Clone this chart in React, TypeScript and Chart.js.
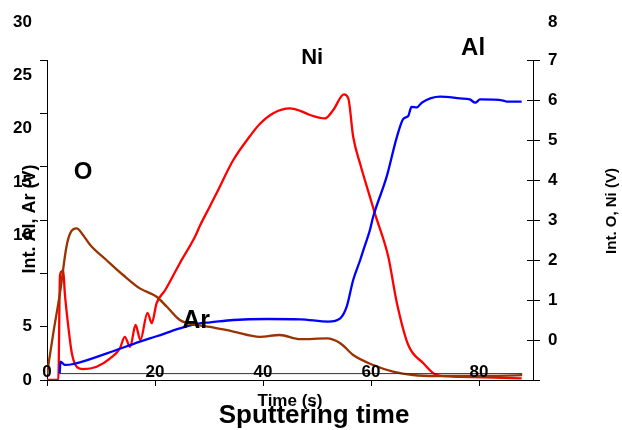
import React, { useEffect, useRef } from 'react';
import { Chart, registerables } from 'chart.js';

Chart.register(...registerables);

const FONT = '"Liberation Sans", Arial, Helvetica, sans-serif';

// ---- data ----
const oTime = [0, 1.2, 2.4, 3.6, 4.3, 5.5, 6.7, 8.0, 11.0, 14.1, 17.2, 20.3, 22.2, 24.6, 27.7, 30.2, 34.5, 39.4, 43.1, 46.9, 51.8, 54.3, 56.7, 60.4, 64.1, 67.8, 72, 80, 88];
const oValue = [-0.85, 0.2, 1.17, 2.33, 2.67, 2.79, 2.62, 2.375, 2.0, 1.625, 1.29, 1.08, 0.83, 0.5, 0.375, 0.33, 0.21, 0.08, 0.125, 0.02, 0.04, -0.08, -0.375, -0.625, -0.79, -0.875, -0.9, -0.9, -0.88];

const niTime = [0, 2.1, 2.4, 2.7, 3.0, 3.3, 3.95, 4.6, 5.5, 6.7, 9.2, 11.7, 13.5, 14.4, 15.4, 16.4, 17.3, 18.6, 19.4, 20.3, 21.9, 24.6, 27.4, 28.3, 30.2, 31.4, 34.5, 37.6, 39.4, 41.9, 45.0, 46.9, 48.7, 51.5, 53.0, 55.0, 55.8, 56.7, 58.0, 59.8, 60.7, 63.2, 64.8, 66.9, 69.7, 72.2, 76.5, 82.6, 87.9];
const niValue = [-1, -1, 1.6, 1.71, 1.75, 1.17, 0.33, -0.33, -0.67, -0.73, -0.67, -0.46, -0.21, 0.08, -0.17, 0.375, 0, 0.68, 0.42, 0.92, 1.25, 1.92, 2.58, 2.85, 3.35, 3.67, 4.5, 5.1, 5.4, 5.67, 5.79, 5.73, 5.625, 5.54, 5.75, 6.14, 6.04, 5.08, 4.4, 3.58, 3.17, 2.08, 0.92, -0.125, -0.58, -0.875, -0.92, -0.94, -0.96];

const alTime = [2.35, 2.5, 3.3, 4.9, 11.1, 17.2, 20.3, 24.6, 28.3, 30.2, 34.5, 40.7, 46.9, 52.1, 54.3, 55.5, 56.7, 58.0, 58.6, 59.8, 60.4, 62.9, 64.8, 66.0, 66.9, 67.5, 68.5, 69.4, 72.8, 76.5, 78.3, 79.3, 80.2, 84.5, 85.1, 87.9];
const alValue = [0.6, 1.72, 1.41, 1.5, 2.5, 3.6, 4.1, 4.84, 5.31, 5.4, 5.625, 5.72, 5.69, 5.47, 5.78, 6.87, 9.375, 11.25, 12.2, 14.06, 15.3, 19.06, 22.8, 24.5, 24.75, 25.6, 25.56, 26.0, 26.56, 26.4, 26.3, 26.0, 26.3, 26.2, 26.1, 26.1];

const baseTime = [2.4, 88];
const baseValue = [0.6, 0.6];

// tick label sets
const xTicks = [0, 20, 40, 60, 80];
const leftLowTicks = [0, 5];
const leftShiftedTicks = [10, 15, 20, 25, 30];
const rightExtraTick = 8;

const toPoints = (xs: number[], ys: number[]) => xs.map((x, i) => ({ x, y: ys[i] }));

const textPlugin = {
  id: 'extraTexts',
  afterDraw(chart: any) {
    const ctx = chart.ctx;
    const xS = chart.scales.x;
    const yL = chart.scales.y;
    const yR = chart.scales.y1;
    ctx.save();
    ctx.fillStyle = '#000';
    ctx.strokeStyle = '#000';
    ctx.lineWidth = 1;

    // inner ticks of right axis
    for (const t of yR.ticks) {
      const py = Math.round(yR.getPixelForValue(t.value)) + 0.5;
      ctx.beginPath();
      ctx.moveTo(yR.left - 6, py);
      ctx.lineTo(yR.left, py);
      ctx.stroke();
    }

    ctx.font = `bold 17px ${FONT}`;
    ctx.textBaseline = 'middle';

    // x tick labels, sitting on the inner baseline
    ctx.textAlign = 'center';
    for (const v of xTicks) {
      ctx.fillText(String(v), xS.getPixelForValue(v), xS.top - 8);
    }

    // shifted left tick labels
    ctx.textAlign = 'right';
    for (const v of leftShiftedTicks) {
      ctx.fillText(String(v), yL.right - 15, yL.getPixelForValue(v) - 38);
    }
    // extra right label
    ctx.textAlign = 'left';
    ctx.fillText(String(rightExtraTick), yR.left + 15, yR.getPixelForValue(rightExtraTick) + 2);

    // annotations
    const ann = [
      { t: 'O', x: 6.7, y: 4.18, s: 24 },
      { t: 'Ni', x: 49.1, y: 7.05, s: 22 },
      { t: 'Al', x: 78.9, y: 7.28, s: 24 },
      { t: 'Ar', x: 27.6, y: 0.47, s: 25 },
    ];
    ctx.textAlign = 'center';
    for (const a of ann) {
      ctx.font = `bold ${a.s}px ${FONT}`;
      ctx.fillText(a.t, xS.getPixelForValue(a.x), yR.getPixelForValue(a.y));
    }

    // axis titles
    ctx.font = `bold 18px ${FONT}`;
    ctx.save();
    ctx.translate(30, (yL.top + yL.bottom) / 2 - 1);
    ctx.rotate(-Math.PI / 2);
    ctx.fillText('Int. Al, Ar (V)', 0, 0);
    ctx.restore();

    ctx.font = `bold 15px ${FONT}`;
    ctx.save();
    ctx.translate(612, (yR.top + yR.bottom) / 2 - 9);
    ctx.rotate(-Math.PI / 2);
    ctx.fillText('Int. O, Ni (V)', 0, 0);
    ctx.restore();

    ctx.font = `bold 17px ${FONT}`;
    ctx.fillText('Time (s)', (xS.left + xS.right) / 2, 401);

    ctx.font = `bold 26px ${FONT}`;
    ctx.fillText('Sputtering time', 314, 416);
    ctx.restore();
  },
};

export default function App() {
  const ref = useRef<HTMLCanvasElement>(null);
  useEffect(() => {
    const tickFont = { family: FONT, size: 17, weight: 'bold' as const };
    const chart = new Chart(ref.current!, {
      type: 'line',
      data: {
        datasets: [
          {
            label: 'base',
            data: toPoints(baseTime, baseValue),
            yAxisID: 'y',
            borderColor: '#333333',
            borderWidth: 1,
            pointRadius: 0,
            tension: 0,
          },
          {
            label: 'O',
            data: toPoints(oTime, oValue),
            yAxisID: 'y1',
            borderColor: '#993300',
            borderWidth: 2.3,
            pointRadius: 0,
            cubicInterpolationMode: 'monotone',
          },
          {
            label: 'Al',
            data: toPoints(alTime, alValue),
            yAxisID: 'y',
            borderColor: '#0000ff',
            borderWidth: 2.3,
            pointRadius: 0,
            cubicInterpolationMode: 'monotone',
          },
          {
            label: 'Ni',
            data: toPoints(niTime, niValue),
            yAxisID: 'y1',
            borderColor: '#ff0000',
            borderWidth: 2.3,
            pointRadius: 0,
            cubicInterpolationMode: 'monotone',
          },
        ],
      },
      options: {
        animation: false,
        responsive: false,
        devicePixelRatio: 1,
        layout: { padding: { top: 60, left: 0, right: 0, bottom: 0 } },
        plugins: { legend: { display: false }, title: { display: false }, tooltip: { enabled: false } },
        scales: {
          x: {
            type: 'linear',
            position: 'bottom',
            min: 0,
            max: 90,
            afterBuildTicks: (s: any) => {
              s.ticks = xTicks.map((v) => ({ value: v }));
            },
            afterFit: (s: any) => {
              s.height = 50;
            },
            ticks: { font: tickFont, color: '#000', maxRotation: 0, autoSkip: false, callback: () => '' },
            grid: { drawOnChartArea: false, drawTicks: true, tickLength: 6, color: '#000' },
            border: { color: '#000', width: 1 },
          },
          y: {
            type: 'linear',
            position: 'left',
            min: 0,
            max: 30,
            afterFit: (s: any) => {
              s.width = 47;
            },
            ticks: {
              stepSize: 5,
              font: tickFont,
              color: '#000',
              padding: 8,
              callback: (v: any) => (leftLowTicks.includes(Number(v)) ? String(v) : ''),
            },
            grid: { drawOnChartArea: false, drawTicks: true, tickLength: 7, color: '#000' },
            border: { color: '#000', width: 1 },
          },
          y1: {
            type: 'linear',
            position: 'right',
            min: -1,
            max: 7,
            afterFit: (s: any) => {
              s.width = 89;
            },
            ticks: {
              stepSize: 1,
              font: tickFont,
              color: '#000',
              padding: 8,
              callback: (v: any) => (Number(v) === -1 ? '' : String(v)),
            },
            grid: { drawOnChartArea: false, drawTicks: true, tickLength: 7, color: '#000' },
            border: { color: '#000', width: 1 },
          },
        },
      },
      plugins: [textPlugin],
    });
    return () => chart.destroy();
  }, []);

  return (
    <div style={{ position: 'fixed', left: 0, top: 0, width: 622, height: 430, background: '#fff' }}>
      <canvas ref={ref} width={622} height={430} style={{ display: 'block' }} />
    </div>
  );
}
